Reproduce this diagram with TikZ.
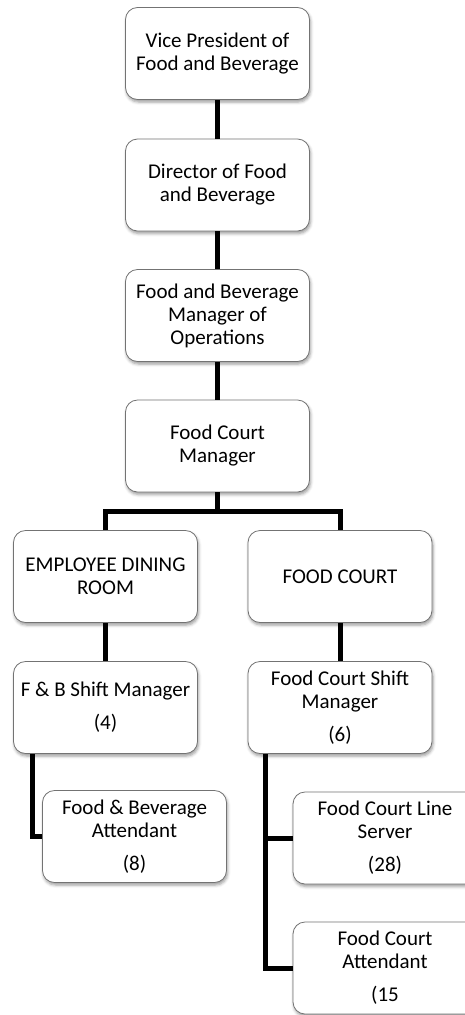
\documentclass[tikz,border=0pt]{standalone}
\usepackage{fontspec}
\setmainfont{Carlito}
\usetikzlibrary{shadows.blur}

\begin{document}
\begin{tikzpicture}[x=1pt,y=1pt,
	box/.style={draw=black!55,line width=.8pt,fill=white,rounded corners=12pt,
		minimum width=184pt,minimum height=92pt,inner sep=2pt,align=center,
		font=\fontsize{21}{23}\selectfont,
		blur shadow={shadow xshift=1pt,shadow yshift=-2.5pt,shadow blur radius=3pt,shadow opacity=40}},
	link/.style={line width=5pt}]
	\def\cx{217.5}  % cột giữa
	\def\lx{105.5}  % cột trái
	\def\rx{340}    % cột phải
	\useasboundingbox (0,0) rectangle (464,-1015);
	% chuỗi chính
	\node[box] (vp) at (\cx,-53.5) {Vice President of\\Food and Beverage};
	\node[box] (dir) at (\cx,-185) {Director of Food\\and Beverage};
	\node[box] (ops) at (\cx,-315.5) {Food and Beverage\\Manager of\\Operations};
	\node[box] (fcm) at (\cx,-446) {Food Court\\Manager};
	% hai nhánh
	\node[box] (edr) at (\lx,-576.5) {EMPLOYEE DINING\\ROOM};
	\node[box] (fc) at (\rx,-576.5) {FOOD COURT};
	\node[box] (fbsm) at (\lx,-707.5) {F \& B Shift Manager\\[10pt](4)};
	\node[box] (fcsm) at (\rx,-707.5) {Food Court Shift\\Manager\\[10pt](6)};
	\node[box] (fba) at (134.5,-836.5) {Food \& Beverage\\Attendant\\[10pt](8)};
	\node[box] (fcls) at (385,-838) {Food Court Line\\Server\\[10pt](28)};
	\node[box] (fca) at (385,-968) {Food Court\\Attendant\\[10pt](15};
	% đường nối
	\draw[link] (vp) -- (dir);
	\draw[link] (dir) -- (ops);
	\draw[link] (ops) -- (fcm);
	\coordinate (bar) at (\cx,-511);
	\draw[link] (fcm) -- (bar);
	\draw[link] (edr.north) |- (fc.north |- bar) -- (fc.north);
	\draw[link] (edr) -- (fbsm);
	\draw[link] (fc) -- (fcsm);
	\draw[link] (fbsm.south west) ++(19,0) |- (fba.west);
	\draw[link] (fcsm.south west) ++(18,0) coordinate (spine) |- (fca.west);
	\draw[link] (spine |- fcls.west) -- (fcls.west);
\end{tikzpicture}
\end{document}
